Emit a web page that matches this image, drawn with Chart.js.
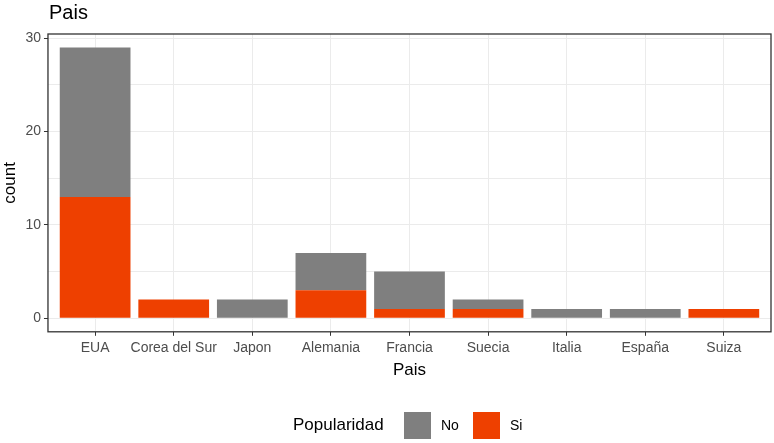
<!DOCTYPE html>
<html>
<head>
<meta charset="utf-8">
<script src="https://cdn.jsdelivr.net/npm/chart.js@4.4.0/dist/chart.umd.min.js"></script>
<style>
  html, body { margin: 0; padding: 0; background: #fff; }
  #wrap { width: 774px; height: 443px; position: relative; }
</style>
</head>
<body>
<div id="wrap"><canvas id="chart"></canvas></div>
<script>
// data
const categories = ['EUA', 'Corea del Sur', 'Japon', 'Alemania', 'Francia', 'Suecia', 'Italia', 'España', 'Suiza'];
const siValues = [13, 2, 0, 3, 1, 1, 0, 0, 1];
const noValues = [16, 0, 2, 4, 4, 1, 1, 1, 0];
const yTicks = [0, 5, 10, 15, 20, 25, 30];
const legendLabels = ['No', 'Si'];

const GREY = '#7F7F7F';
const ORANGE = '#EE4000';
const FONT = '"Liberation Sans", Arial, sans-serif';

// panel border, title and bottom legend (ggplot style)
const ggDecor = {
    id: 'ggDecor',
    afterDraw(chart) {
        const ctx = chart.ctx;
        const a = chart.chartArea;
        ctx.save();
        ctx.strokeStyle = '#333333';
        ctx.lineWidth = 1.3;
        ctx.strokeRect(a.left, a.top, a.right - a.left, a.bottom - a.top);

        // title
        ctx.fillStyle = '#000';
        ctx.font = '20px ' + FONT;
        ctx.textBaseline = 'middle';
        ctx.textAlign = 'left';
        ctx.fillText('Pais', a.left + 1, 13);

        // legend
        const cy = 425;
        ctx.font = '17px ' + FONT;
        ctx.fillText('Popularidad', 293, cy);
        const keys = [
            { x: 404, color: GREY, label: legendLabels[0], tx: 441 },
            { x: 473, color: ORANGE, label: legendLabels[1], tx: 510 }
        ];
        ctx.font = '14px ' + FONT;
        keys.forEach(k => {
            ctx.fillStyle = k.color;
            ctx.fillRect(k.x, cy - 13, 27, 27);
            ctx.fillStyle = '#000';
            ctx.fillText(k.label, k.tx, cy + 1);
        });
        ctx.restore();
    }
};

const ctx = document.getElementById('chart').getContext('2d');
new Chart(ctx, {
    type: 'bar',
    data: {
        datasets: [
            {
                label: 'Si',
                data: siValues.map((v, i) => ({ x: i + 1, y: v })),
                backgroundColor: ORANGE,
                borderWidth: 0,
                barPercentage: 0.9,
                categoryPercentage: 1.0
            },
            {
                label: 'No',
                data: noValues.map((v, i) => ({ x: i + 1, y: v })),
                backgroundColor: GREY,
                borderWidth: 0,
                barPercentage: 0.9,
                categoryPercentage: 1.0
            }
        ]
    },
    options: {
        responsive: true,
        maintainAspectRatio: false,
        animation: false,
        layout: { padding: { top: 34, right: 3, bottom: 62, left: 0 } },
        plugins: {
            legend: { display: false },
            tooltip: { enabled: false }
        },
        scales: {
            x: {
                type: 'linear',
                stacked: true,
                min: 0.4,
                max: 9.6,
                offset: false,
                afterBuildTicks: (axis) => {
                    axis.ticks = categories.map((c, i) => ({ value: i + 1 }));
                },
                grid: {
                    offset: false,
                    color: '#EBEBEB',
                    lineWidth: 1,
                    tickLength: 4,
                    tickColor: '#333333'
                },
                border: { display: false },
                ticks: {
                    autoSkip: false,
                    maxRotation: 0,
                    padding: 4,
                    color: '#4D4D4D',
                    font: { family: FONT, size: 14 },
                    callback: (v) => categories[v - 1]
                },
                title: {
                    display: true,
                    text: 'Pais',
                    color: '#000',
                    font: { family: FONT, size: 17 },
                    padding: { top: 0, bottom: 0 }
                }
            },
            y: {
                stacked: true,
                min: -1.45,
                max: 30.45,
                afterBuildTicks: (axis) => {
                    axis.ticks = yTicks.map(v => ({ value: v }));
                },
                grid: {
                    color: '#EBEBEB',
                    lineWidth: 1,
                    tickLength: 4,
                    tickColor: (c) => (c.tick && c.tick.value % 10 === 0) ? '#333333' : 'rgba(0,0,0,0)'
                },
                border: { display: false },
                ticks: {
                    padding: 3,
                    color: '#4D4D4D',
                    font: { family: FONT, size: 14 },
                    callback: (v) => (v % 10 === 0 ? v : '')
                },
                title: {
                    display: true,
                    text: 'count',
                    color: '#000',
                    font: { family: FONT, size: 17 },
                    padding: { top: 0, bottom: 2 }
                }
            }
        }
    },
    plugins: [ggDecor]
});
</script>
</body>
</html>
